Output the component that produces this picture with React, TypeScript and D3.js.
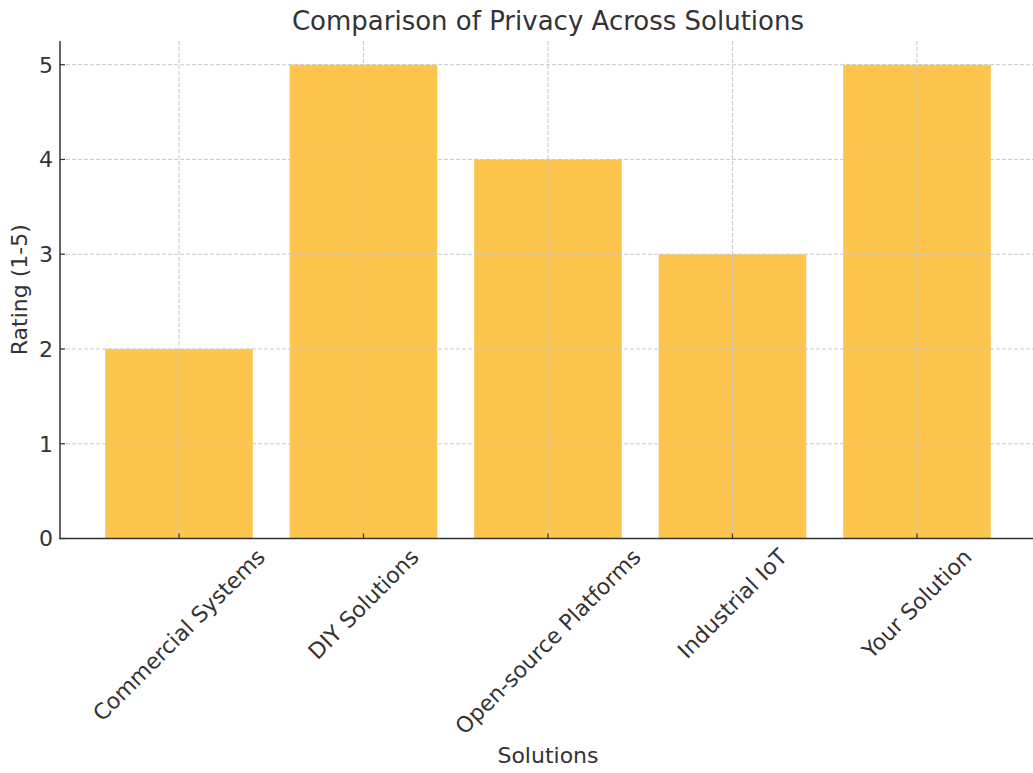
import React, { useEffect, useRef } from "react";
import * as d3 from "d3";

const categories = ["Commercial Systems", "DIY Solutions", "Open-source Platforms", "Industrial IoT", "Your Solution"];
const ratings = [2, 5, 4, 3, 5];
const yTicks = [0, 1, 2, 3, 4, 5];
const title = "Comparison of Privacy Across Solutions";
const xLabel = "Solutions";
const yLabel = "Rating (1-5)";

const W = 1033;
const H = 773;
const FONT = "'DejaVu Sans', sans-serif";
const TXT = "#333333";

export default function App() {
  const ref = useRef<SVGSVGElement>(null);

  useEffect(() => {
    const svg = d3.select(ref.current);
    svg.selectAll("*").remove();

    const left = 60, right = 1033, top = 41, bottom = 538.5;
    const x = d3.scaleLinear().domain([-0.645, 4.629]).range([left, right]);
    const y = d3.scaleLinear().domain([0, 5.25]).range([bottom, top]);
    const bw = x(0.8) - x(0);

    // bars
    svg.append("g")
      .selectAll("rect")
      .data(ratings)
      .join("rect")
      .attr("x", (_, i) => x(i - 0.4))
      .attr("y", (d) => y(d))
      .attr("width", bw)
      .attr("height", (d) => y(0) - y(d))
      .attr("fill", "#fdc54e");

    // grid (above bars)
    const grid = svg.append("g").attr("stroke", "#c8c8c8").attr("stroke-width", 1).attr("stroke-dasharray", "4,2");
    grid.selectAll("line.h")
      .data(yTicks)
      .join("line")
      .attr("class", "h")
      .attr("x1", left).attr("x2", right)
      .attr("y1", (d) => y(d)).attr("y2", (d) => y(d));
    grid.selectAll("line.v")
      .data(categories.map((_, i) => i))
      .join("line")
      .attr("class", "v")
      .attr("x1", (d) => x(d)).attr("x2", (d) => x(d))
      .attr("y1", top).attr("y2", bottom);

    // spines
    svg.append("line").attr("x1", left).attr("x2", left).attr("y1", top).attr("y2", bottom + 0.5)
      .attr("stroke", TXT).attr("stroke-width", 1.5);
    svg.append("line").attr("x1", left - 0.75).attr("x2", right).attr("y1", bottom).attr("y2", bottom)
      .attr("stroke", TXT).attr("stroke-width", 1.5);

    // y ticks
    const yt = svg.append("g");
    yTicks.forEach((t) => {
      yt.append("line").attr("x1", left).attr("x2", left + 5).attr("y1", y(t)).attr("y2", y(t))
        .attr("stroke", TXT).attr("stroke-width", 1.2);
      yt.append("text").attr("x", 53).attr("y", y(t)).attr("dy", "0.36em")
        .attr("text-anchor", "end").attr("font-family", FONT).attr("font-size", 22).attr("fill", TXT)
        .text(t);
    });

    // x ticks + rotated labels
    const xt = svg.append("g");
    categories.forEach((c, i) => {
      xt.append("line").attr("x1", x(i)).attr("x2", x(i)).attr("y1", bottom).attr("y2", bottom - 5)
        .attr("stroke", TXT).attr("stroke-width", 1.2);
      const t = xt.append("text").attr("text-anchor", "middle").attr("dominant-baseline", "central")
        .attr("font-family", FONT).attr("font-size", 22).attr("fill", TXT).text(c);
      const w = (t.node() as SVGTextElement).getComputedTextLength();
      const h = 22 * 1.16;
      const half = (w + h) / (2 * Math.SQRT2);
      t.attr("transform", `translate(${x(i)},${544 + half}) rotate(-45)`);
    });

    // title and axis labels
    svg.append("text").attr("x", x(2)).attr("y", 30).attr("text-anchor", "middle")
      .attr("font-family", FONT).attr("font-size", 26).attr("fill", TXT).text(title);
    svg.append("text").attr("x", x(2)).attr("y", 763).attr("text-anchor", "middle")
      .attr("font-family", FONT).attr("font-size", 22).attr("fill", TXT).text(xLabel);
    svg.append("text").attr("transform", `translate(27,${(top + bottom) / 2}) rotate(-90)`)
      .attr("text-anchor", "middle")
      .attr("font-family", FONT).attr("font-size", 22).attr("fill", TXT).text(yLabel);
  }, []);

  return (
    <svg ref={ref} width={W} height={H} style={{ position: "absolute", left: 0, top: 0, background: "#fff" }} />
  );
}
